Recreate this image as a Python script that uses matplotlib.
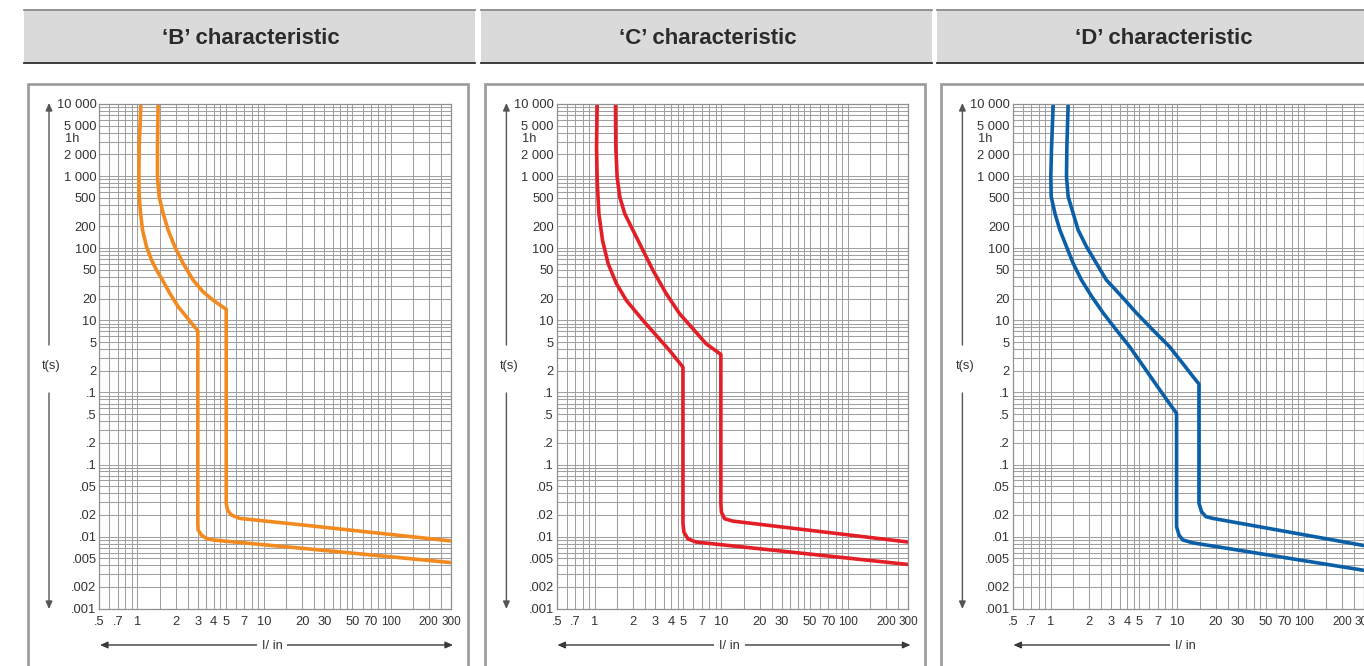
import numpy as np
import matplotlib
matplotlib.use("Agg")
import matplotlib.pyplot as plt
from matplotlib.patches import Rectangle
from matplotlib.transforms import blended_transform_factory

plt.rcParams['font.family'] = ['Liberation Sans', 'DejaVu Sans']

titles = ["\u2018B\u2019 characteristic", "\u2018C\u2019 characteristic", "\u2018D\u2019 characteristic"]
colors = ["#f28a1f", "#e31e27", "#0b5fa7"]

b_low_i = [1.065, 1.033, 1.027, 1.033, 1.059, 1.098, 1.18, 1.292, 1.415, 1.577, 1.802, 2.096, 2.436, 2.75, 3.0,
           3.0, 3.02, 3.2, 3.5, 3.95, 20.2, 300]
b_low_t = [10000, 2560, 982, 518, 305, 179, 105, 68.6, 49.9, 36.2, 23.7, 15.5, 11.2, 8.61, 7.18,
           0.0153, 0.0123, 0.0105, 0.00946, 0.00897, 0.00687, 0.00436]
b_up_i = [1.458, 1.44, 1.44, 1.485, 1.597, 1.748, 1.972, 2.294, 2.75, 3.298, 3.95, 4.6, 5.03,
          5.03, 5.15, 5.51, 6.41, 20.2, 300]
b_up_t = [10000, 2560, 982, 518, 305, 179, 105, 61.7, 36.2, 24.9, 19.1, 15.8, 14.2,
          0.029, 0.0234, 0.020, 0.0179, 0.0145, 0.0087]

c_low_i = [1.044, 1.032, 1.044, 1.077, 1.151, 1.275, 1.483, 1.778, 2.405, 3.063, 3.90, 4.97,
           4.97, 5.06, 5.44, 6.32, 300]
c_low_t = [10000, 2520, 869, 300, 128, 60.8, 32.1, 18.8, 9.93, 6.15, 3.81, 2.24,
           0.0151, 0.0115, 0.0093, 0.0084, 0.0041]
c_up_i = [1.457, 1.465, 1.501, 1.576, 1.725, 2.006, 2.405, 2.884, 3.672, 4.68, 5.96, 7.58, 9.9,
          9.9, 10.0, 10.6, 12.3, 300]
c_up_t = [10000, 2520, 966, 511, 300, 176, 92.9, 49.1, 23.3, 12.3, 7.62, 4.72, 3.36,
          0.0285, 0.0218, 0.0177, 0.0164, 0.0084]

d_low_i = [1.045, 1.014, 1.0, 1.007, 1.077, 1.179, 1.33, 1.501, 1.746, 2.094, 2.586, 3.293, 4.19, 5.13,
           6.22, 7.5, 8.61, 9.85, 9.85, 10.3, 11.0, 13.2, 300]
d_low_t = [10000, 2560, 982, 518, 305, 179, 105, 61.7, 36.2, 21.7, 12.7, 7.34, 4.31, 2.6,
           1.6, 1.0, 0.71, 0.512, 0.0137, 0.0105, 0.009, 0.0082, 0.0034]
d_up_i = [1.371, 1.339, 1.33, 1.371, 1.501, 1.644, 1.912, 2.292, 2.748, 3.606, 4.73, 6.4, 8.66, 11.0,
          13.6, 14.8, 14.8, 15.5, 16.8, 19.0, 300]
d_up_t = [10000, 2560, 982, 518, 305, 179, 105, 61.7, 36.2, 21.7, 12.7, 7.34, 4.31, 2.53,
          1.57, 1.31, 0.029, 0.0222, 0.0189, 0.0179, 0.0075]

curves = [((b_low_i, b_low_t), (b_up_i, b_up_t)),
          ((c_low_i, c_low_t), (c_up_i, c_up_t)),
          ((d_low_i, d_low_t), (d_up_i, d_up_t))]

ytick_vals = [10000, 5000, 2000, 1000, 500, 200, 100, 50, 20, 10, 5, 2, 1,
              0.5, 0.2, 0.1, 0.05, 0.02, 0.01, 0.005, 0.002, 0.001]
ytick_labels = ['10 000', '5 000', '2 000', '1 000', '500', '200', '100', '50', '20', '10', '5', '2', '.1',
                '.5', '.2', '.1', '.05', '.02', '.01', '.005', '.002', '.001']
xtick_vals = [0.5, 0.7, 1, 2, 3, 4, 5, 7, 10, 20, 30, 50, 70, 100, 200, 300]
xtick_labels = ['.5', '.7', '1', '2', '3', '4', '5', '7', '10', '20', '30', '50', '70', '100', '200', '300']

# lignes de grille
xgrid = [m * d for d in [0.1, 1, 10, 100] for m in [1, 1.5, 2, 2.5, 3, 3.5, 4, 4.5, 5, 6, 7, 8, 9]]
xgrid = [v for v in xgrid if 0.5 <= v <= 300] + [300]
ygrid = [m * 10.0 ** e for e in range(-3, 4) for m in range(1, 10)] + [10000]

W, H = 1364, 666
fig = plt.figure(figsize=(W / 100, H / 100), dpi=100)

bg = fig.add_axes([0, 0, 1, 1], zorder=0)
bg.set_xlim(0, W)
bg.set_ylim(H, 0)
bg.axis('off')

txt = '#333333'
grid_c = '#a0a0a0'
ax_l, ax_r, ax_t, ax_b = 99.3, 451.0, 104.0, 608.7
offsets = [0, 457.4, 913.4]

for k, dx in enumerate(offsets):
    # bandeau de titre
    bg.add_patch(Rectangle((24 + dx, 10), 451, 53, facecolor='#dadada', edgecolor='none'))
    bg.plot([24 + dx, 475 + dx], [10, 10], color='#8a8a8a', lw=1.3)
    bg.plot([24 + dx, 475 + dx], [63, 63], color='#2e2e2e', lw=1.3)
    bg.text(250.5 + dx, 38, titles[k], ha='center', va='center', fontsize=16,
            fontweight='bold', color='#2b2b2b')
    # cadre
    bg.add_patch(Rectangle((28 + dx, 84), 439.5, 620, facecolor='white',
                           edgecolor='#9a9a9a', lw=1.9))

    ax = fig.add_axes([(ax_l + dx) / W, 1 - ax_b / H, (ax_r - ax_l) / W, (ax_b - ax_t) / H], zorder=2)
    ax.set_xscale('log')
    ax.set_yscale('log')
    ax.set_xlim(0.5, 300)
    ax.set_ylim(0.001, 10000)
    ax.set_xticks(xgrid, minor=True)
    ax.set_yticks(ygrid, minor=True)
    ax.set_xticks(xtick_vals)
    ax.set_xticklabels(xtick_labels)
    ax.set_yticks(ytick_vals)
    ax.set_yticklabels(ytick_labels)
    ax.xaxis.set_minor_formatter(plt.NullFormatter())
    ax.yaxis.set_minor_formatter(plt.NullFormatter())
    ax.tick_params(which='both', length=0, colors=txt, labelsize=9.3)
    ax.tick_params(axis='x', pad=5)
    ax.tick_params(axis='y', pad=2)
    for lab in ax.get_xticklabels():
        if len(lab.get_text()) == 3 and not lab.get_text().startswith('.'):
            lab.set_fontsize(8.5)
    ax.grid(True, which='both', color=grid_c, lw=0.75)
    for s in ax.spines.values():
        s.set_color('#909090')
        s.set_linewidth(0.9)

    tr = blended_transform_factory(ax.transAxes, ax.transData)
    ax.text(-0.0975, 3250, '1h', transform=tr, ha='left', va='center', fontsize=9.3, color=txt)

    for (ci, ct) in curves[k]:
        ax.plot(ci, ct, color=colors[k], lw=2.6, solid_joinstyle='round', solid_capstyle='butt')

    # flèches d'axes
    arr = dict(arrowstyle='-|>,head_length=0.45,head_width=0.2', color='#3a3a3a', lw=1.0,
               mutation_scale=10, shrinkA=0, shrinkB=0)
    bg.annotate('', xy=(49 + dx, 103), xytext=(49 + dx, 345), arrowprops=dict(arr, color='#555555'))
    bg.annotate('', xy=(49 + dx, 609), xytext=(49 + dx, 393), arrowprops=dict(arr, color='#555555'))
    bg.text(51.5 + dx, 366, 't(s)', ha='center', va='center', fontsize=9.3, color=txt)
    bg.annotate('', xy=(100 + dx, 645), xytext=(272 + dx, 645), arrowprops=arr)
    bg.annotate('', xy=(453 + dx, 645), xytext=(272 + dx, 645), arrowprops=arr)
    bg.text(272 + dx, 646, 'I/ in', ha='center', va='center', fontsize=9.3, color=txt,
            bbox=dict(facecolor='white', edgecolor='none', pad=3.5))

fig.savefig('out.png', dpi=100)
